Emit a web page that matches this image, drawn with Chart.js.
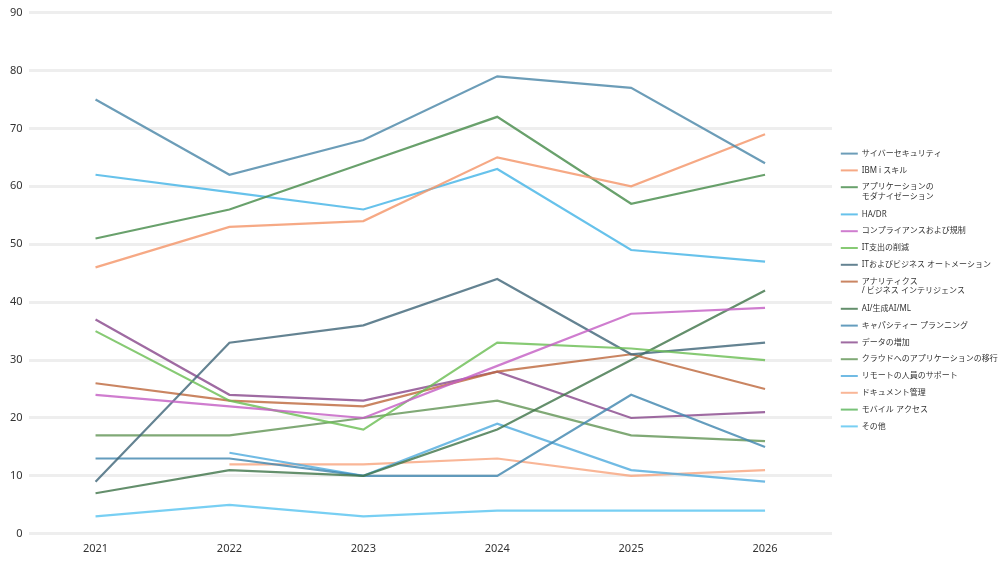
<!DOCTYPE html>
<html>
<head>
<meta charset="utf-8">
<script src="https://cdn.jsdelivr.net/npm/chart.js@4.4.0/dist/chart.umd.min.js"></script>
<style>
  html, body { margin: 0; padding: 0; background: #ffffff; }
  #wrap { width: 1000px; height: 569px; position: relative; }
</style>
</head>
<body>
<div id="wrap"><canvas id="c"></canvas></div>
<script>
const years = ['2021', '2022', '2023', '2024', '2025', '2026'];

const cyberSecurity   = [75, 62, 68, 79, 77, 64];
const ibmISkills      = [46, 53, 54, 65, 60, 69];
const appModernize    = [51, 56, 64, 72, 57, 62];
const haDr            = [62, 59, 56, 63, 49, 47];
const compliance      = [24, 22, 20, 29, 38, 39];
const itCostCut       = [35, 23, 18, 33, 32, 30];
const itAutomation    = [9, 33, 36, 44, 31, 33];
const analyticsBi     = [26, 23, 22, 28, 31, 25];
const aiMl            = [7, 11, 10, 18, 30, 42];
const capacityPlan    = [13, 13, 10, 10, 24, 15];
const dataGrowth      = [37, 24, 23, 28, 20, 21];
const cloudMigration  = [17, 17, 20, 23, 17, 16];
const remoteSupport   = [null, 14, 10, 19, 11, 9];
const documentMgmt    = [null, 12, 12, 13, 10, 11];
const mobileAccess    = [null, null, null, null, null, null];
const otherItems      = [3, 5, 3, 4, 4, 4];

const yTicks = [0, 10, 20, 30, 40, 50, 60, 70, 80, 90];

const seriesLabels = [
  'サイバーセキュリティ',
  'IBM i スキル',
  ['アプリケーションの', 'モダナイゼーション'],
  'HA/DR',
  'コンプライアンスおよび規制',
  'IT支出の削減',
  'ITおよびビジネス オートメーション',
  ['アナリティクス', '/ ビジネス インテリジェンス'],
  'AI/生成AI/ML',
  'キャパシティー プランニング',
  'データの増加',
  'クラウドへのアプリケーションの移行',
  'リモートの人員のサポート',
  'ドキュメント管理',
  'モバイル アクセス',
  'その他'
];
const seriesValues = [
  cyberSecurity, ibmISkills, appModernize, haDr, compliance, itCostCut,
  itAutomation, analyticsBi, aiMl, capacityPlan, dataGrowth, cloudMigration,
  remoteSupport, documentMgmt, mobileAccess, otherItems
];
const seriesColors = [
  'rgba(76,136,168,0.82)',
  'rgba(244,150,106,0.82)',
  'rgba(72,140,76,0.82)',
  'rgba(70,180,230,0.82)',
  'rgba(196,96,196,0.82)',
  'rgba(108,190,86,0.82)',
  'rgba(66,104,122,0.82)',
  'rgba(190,106,64,0.82)',
  'rgba(66,118,76,0.82)',
  'rgba(66,136,176,0.82)',
  'rgba(138,74,142,0.82)',
  'rgba(100,150,88,0.82)',
  'rgba(82,172,222,0.82)',
  'rgba(248,166,128,0.82)',
  'rgba(90,180,90,0.82)',
  'rgba(90,196,240,0.82)'
];

const FONT = "'Noto Sans', 'Noto Sans CJK JP', sans-serif";

const datasets = seriesLabels.map((label, i) => ({
  label: label,
  data: seriesValues[i],
  borderColor: seriesColors[i],
  backgroundColor: seriesColors[i],
  borderWidth: 2.2,
  pointRadius: 0,
  pointHoverRadius: 0,
  tension: 0,
  fill: false,
  spanGaps: false
}));

const legendShift = {
  id: 'legendShift',
  afterLayout(chart) {
    if (chart.legend) {
      chart.legend.top += 8;
      chart.legend.bottom += 8;
    }
  }
};

new Chart(document.getElementById('c'), {
  type: 'line',
  data: { labels: years, datasets: datasets },
  plugins: [legendShift],
  options: {
    responsive: true,
    maintainAspectRatio: false,
    animation: false,
    layout: { autoPadding: false, padding: { top: 9, bottom: 14, left: 4, right: 0 } },
    plugins: {
      tooltip: { enabled: false },
      legend: {
        position: 'right',
        align: 'center',
        maxWidth: 168,
        labels: {
          boxWidth: 17,
          boxHeight: 2,
          padding: 8.8,
          color: '#333333',
          font: { family: FONT, size: 8, lineHeight: 1.15 },
          generateLabels(chart) {
            const items = Chart.defaults.plugins.legend.labels.generateLabels(chart);
            items.forEach(it => { it.lineWidth = 0; });
            return items;
          }
        }
      }
    },
    scales: {
      x: {
        offset: true,
        grid: { display: false },
        border: { display: false },
        ticks: { color: '#333333', font: { family: FONT, size: 11 }, padding: 0 }
      },
      y: {
        min: 0,
        max: 90,
        afterBuildTicks: (axis) => { axis.ticks = yTicks.map(v => ({ value: v })); },
        grid: { color: '#eeeeee', lineWidth: 3, drawTicks: false },
        border: { display: false },
        ticks: { color: '#333333', font: { family: FONT, size: 11 }, padding: 6 }
      }
    }
  }
});
</script>
</body>
</html>
